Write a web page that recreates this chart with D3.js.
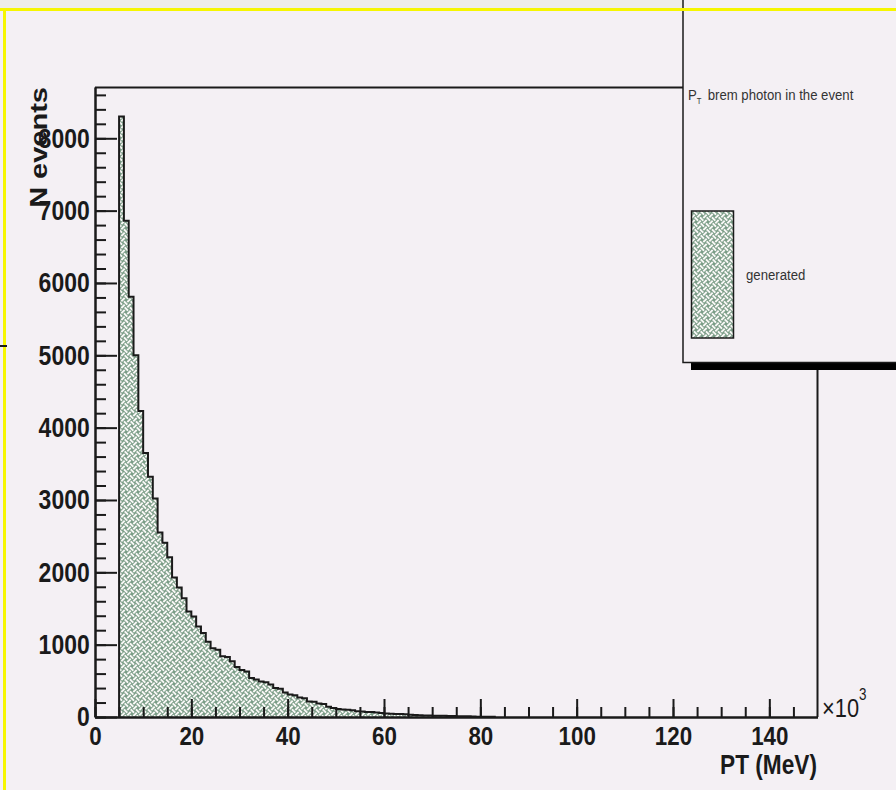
<!DOCTYPE html>
<html>
<head>
<meta charset="utf-8">
<script src="https://cdn.jsdelivr.net/npm/d3@7"></script>
<style>
  body { margin: 0; background: #f4f0f4; }
  svg { display: block; }
</style>
</head>
<body>
<script>
// histogram contents, bins of 1 (x10^3 MeV), first bin starts at 5
var binStart = 5;
var binWidth = 1;
var counts = [8300, 6860, 5810, 5000, 4230, 3650, 3320, 3020, 2550, 2410,
              2210, 1930, 1790, 1640, 1460, 1390, 1250, 1160, 1040, 950,
              930, 840, 830, 770, 690, 650, 630, 540, 520, 490,
              480, 450, 400, 390, 340, 310, 300, 270, 260, 215,
              210, 185, 180, 140, 125, 110, 105, 100, 95, 80,
              75, 70, 68, 62, 55, 50, 45, 42, 40, 38,
              32, 26, 24, 22, 20, 18, 17, 16, 14, 15,
              12, 11, 10, 6, 5, 4, 3, 2];

var xTickValues = [0, 20, 40, 60, 80, 100, 120, 140];
var yTickValues = [0, 1000, 2000, 3000, 4000, 5000, 6000, 7000, 8000];
var xDomain = [0, 150];
var yDomain = [0, 8709];
var xTitle = "PT (MeV)";
var yTitle = "N events";
var legendTitle = " brem photon in the event";
var legendEntry = "generated";

var font = "'Liberation Sans', Arial, Helvetica, sans-serif";
var bg = "#f4f0f4";
var green = "#7b9d87";
var ink = "#1a1a1a";

var breedte = 896, hoogte = 790;
var marge = {links: 95, rechts: 817.5, boven: 87, beneden: 717};

var x = d3.scaleLinear().domain(xDomain).range([marge.links, marge.rechts]);
var y = d3.scaleLinear().domain(yDomain).range([marge.beneden, marge.boven]);

var svg = d3.select("body").append("svg")
  .attr("width", breedte)
  .attr("height", hoogte);

// woven fill pattern (basket weave turned 45 degrees, 12px tile)
var c = 6 / Math.SQRT2, w = 1.8, g = 0.9;
var pat = svg.append("defs").append("pattern")
  .attr("id", "weave")
  .attr("patternUnits", "userSpaceOnUse")
  .attr("width", 2 * c).attr("height", 2 * c)
  .attr("patternTransform", "rotate(45)");
pat.append("rect").attr("x", -1).attr("y", -1)
  .attr("width", 2 * c + 2).attr("height", 2 * c + 2).attr("fill", green);
var len = 2 * c - w - 2 * g;
var strands = [
  {hor: true, pos: c / 2, from: -c / 2 + w / 2 + g},
  {hor: true, pos: 3 * c / 2, from: c / 2 + w / 2 + g},
  {hor: false, pos: c / 2, from: c / 2 + w / 2 + g},
  {hor: false, pos: 3 * c / 2, from: -c / 2 + w / 2 + g}
];
strands.forEach(function(s) {
  [-2 * c, 0, 2 * c].forEach(function(off) {
    var r = pat.append("rect").attr("fill", "#f6f6f4").attr("shape-rendering", "crispEdges");
    if (s.hor) {
      r.attr("x", s.from + off).attr("y", s.pos - w / 2).attr("width", len).attr("height", w);
    } else {
      r.attr("x", s.pos - w / 2).attr("y", s.from + off).attr("width", w).attr("height", len);
    }
  });
});

// canvas
svg.append("rect").attr("width", breedte).attr("height", hoogte).attr("fill", bg);
svg.append("rect").attr("width", breedte).attr("height", 8).attr("fill", "#eeede8");
svg.append("rect").attr("x", 860).attr("width", 36).attr("height", 8).attr("fill", "#e3e7de");

// histogram as steps
var punten = [[binStart, 0]];
counts.forEach(function(v, i) { punten.push([binStart + i * binWidth, v]); });
punten.push([binStart + counts.length * binWidth, 0]);

var vlak = d3.area()
  .x(function(d) { return x(d[0]); })
  .y0(y(0))
  .y1(function(d) { return y(d[1]); })
  .curve(d3.curveStepAfter);
var lijn = d3.line()
  .x(function(d) { return x(d[0]); })
  .y(function(d) { return y(d[1]); })
  .curve(d3.curveStepAfter);

svg.append("path").datum(punten).attr("d", vlak).attr("fill", "url(#weave)");
svg.append("path").datum(punten).attr("d", lijn)
  .attr("fill", "none").attr("stroke", ink).attr("stroke-width", 2);

// frame top and right
svg.append("line").attr("x1", marge.links).attr("x2", marge.rechts)
  .attr("y1", marge.boven + 0.5).attr("y2", marge.boven + 0.5)
  .attr("stroke", ink).attr("stroke-width", 2);
svg.append("line").attr("x1", marge.rechts).attr("x2", marge.rechts)
  .attr("y1", marge.boven).attr("y2", marge.beneden)
  .attr("stroke", ink).attr("stroke-width", 2);

// x axis: minor then major ticks pointing up
var xMinor = d3.range(0, 150, 5);
svg.append("g")
  .attr("transform", "translate(0," + marge.beneden + ")")
  .attr("color", ink)
  .call(d3.axisBottom(x).tickValues(xMinor).tickSize(-10).tickSizeOuter(0).tickFormat(""));
var asX = svg.append("g")
  .attr("transform", "translate(0," + marge.beneden + ")")
  .attr("color", ink)
  .call(d3.axisBottom(x).tickValues(xTickValues).tickSize(-18).tickSizeOuter(0)
    .tickPadding(10).tickFormat(d3.format("d")));
asX.selectAll("text")
  .attr("font-size", 26).attr("font-weight", "bold").attr("font-family", font)
  .attr("transform", "scale(0.86,1)");

// y axis
var yMinor = d3.range(0, 8700, 200);
svg.append("g")
  .attr("transform", "translate(" + marge.links + ",0)")
  .attr("color", ink)
  .call(d3.axisLeft(y).tickValues(yMinor).tickSize(-11).tickSizeOuter(0).tickFormat(""));
var asY = svg.append("g")
  .attr("transform", "translate(" + marge.links + ",0)")
  .attr("color", ink)
  .call(d3.axisLeft(y).tickValues(yTickValues).tickSize(-22).tickSizeOuter(0)
    .tickPadding(6.5).tickFormat(d3.format("d")));
asY.selectAll("text")
  .attr("font-size", 28).attr("font-weight", "bold").attr("font-family", font)
  .attr("transform", "scale(0.82,1)");

svg.selectAll(".tick line, .domain").attr("stroke-width", 2);

// axis titles
svg.append("text")
  .attr("transform", "translate(817,774) scale(0.84,1)")
  .attr("text-anchor", "end")
  .attr("font-family", font).attr("font-weight", "bold").attr("font-size", 27)
  .attr("fill", ink)
  .text(xTitle);

var macht = svg.append("text")
  .attr("transform", "translate(822,717) scale(0.84,1)")
  .attr("font-family", font).attr("font-size", 26).attr("fill", ink);
macht.append("tspan").text("\u00d710");
macht.append("tspan").attr("font-size", 16).attr("dy", -17).text("3");

svg.append("text")
  .attr("transform", "translate(47,87) rotate(-90) scale(1,0.85)")
  .attr("text-anchor", "end")
  .attr("font-family", font).attr("font-weight", "bold").attr("font-size", 29)
  .attr("fill", ink)
  .text(yTitle);

// legend with shadow
svg.append("rect").attr("x", 691).attr("y", 0).attr("width", 220).attr("height", 370).attr("fill", "#000");
svg.append("rect").attr("x", 683).attr("y", -10).attr("width", 230).attr("height", 372.5)
  .attr("fill", bg).attr("stroke", ink).attr("stroke-width", 1.5);

var titel = svg.append("text")
  .attr("transform", "translate(688,100) scale(0.85,1)")
  .attr("font-family", font).attr("font-size", 15.5).attr("fill", "#333");
titel.append("tspan").text("P");
titel.append("tspan").attr("font-size", 9).attr("dy", 4).text("T");
titel.append("tspan").attr("dy", -4).attr("dx", 3).text(legendTitle);

svg.append("rect").attr("x", 691.5).attr("y", 211).attr("width", 42).attr("height", 127)
  .attr("fill", "url(#weave)").attr("stroke", ink).attr("stroke-width", 1.5);
svg.append("text")
  .attr("transform", "translate(746,280) scale(0.85,1)")
  .attr("font-family", font).attr("font-size", 15.5).attr("fill", "#333")
  .text(legendEntry);

// yellow border of the canvas
svg.append("rect").attr("x", 0).attr("y", 8).attr("width", breedte).attr("height", 3).attr("fill", "#f6f600");
svg.append("rect").attr("x", 3).attr("y", 8).attr("width", 3).attr("height", hoogte - 8).attr("fill", "#f6f600");
svg.append("rect").attr("x", 0).attr("y", 345).attr("width", 7).attr("height", 2).attr("fill", ink);
</script>
</body>
</html>
